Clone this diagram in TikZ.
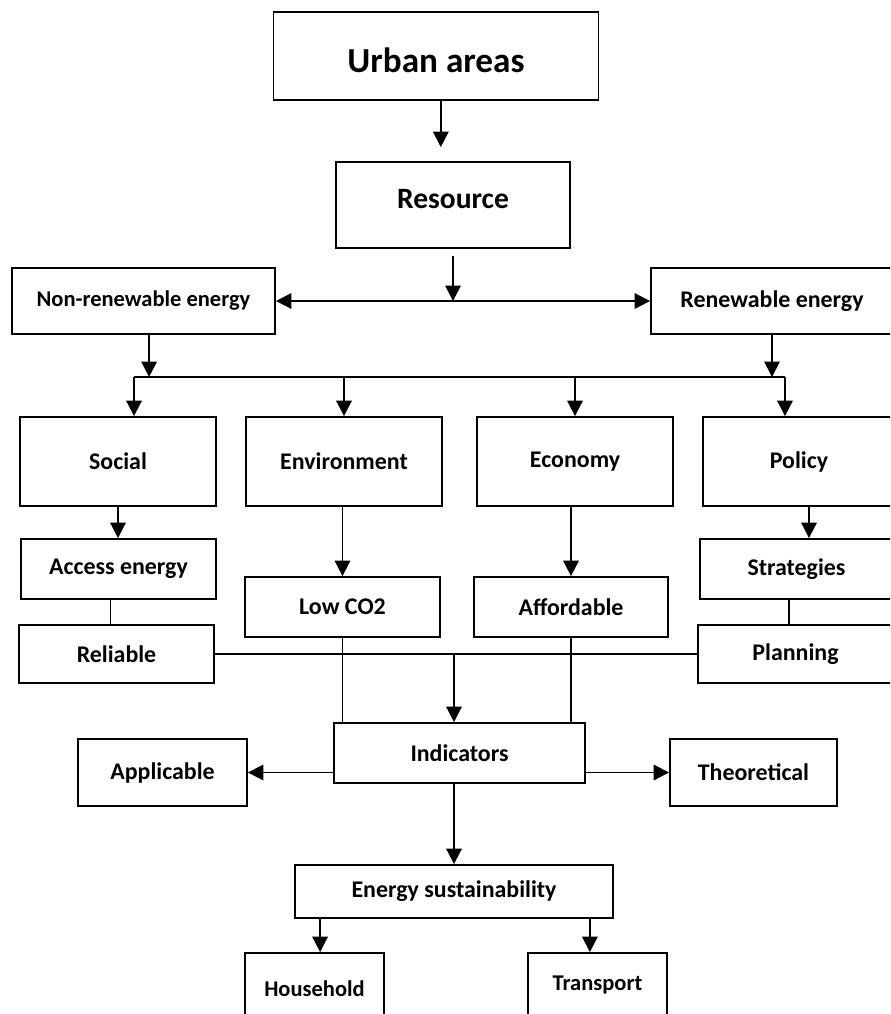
\documentclass[tikz,border=0pt]{standalone}
\usepackage{fontspec}
\setmainfont{Carlito}
\usetikzlibrary{arrows.meta}

\tikzset{
    box/.style={draw, line width=1.3pt, inner sep=0pt, font=\bfseries\fontsize{17}{20}\selectfont},
    boxsize/.style 2 args={minimum width=#1*0.025cm, minimum height=#2*0.025cm},
    ln/.style={line width=1.3pt},
    arr/.style={ln, -{Triangle[length=11pt, width=11pt]}},
    arrs/.style={ln, {Triangle[length=11pt, width=11pt]}-{Triangle[length=11pt, width=11pt]}}
}

\begin{document}
\begin{tikzpicture}[x=0.025cm, y=-0.025cm]
    \fill[white] (0,0) rectangle (890,1014);
    \clip (0,0) rectangle (890,1014);

    \node[box, boxsize={325}{88}, font=\bfseries\fontsize{25}{30}\selectfont, text height=24pt, text depth=0pt] (urban) at (436,56) {Urban areas};
    \node[box, boxsize={234}{86}, font=\bfseries\fontsize{21}{25}\selectfont, text height=15pt, text depth=10pt] (resource) at (453,205) {Resource};
    \node[box, boxsize={263}{66}, font=\bfseries\fontsize{16}{19}\selectfont] (nonrenew) at (143.5,301) {Non-renewable energy};
    \node[box, boxsize={242}{66}] (renew) at (772,301) {Renewable energy};

    \node[box, boxsize={196}{89}] (social) at (118,461.5) {Social};
    \node[box, boxsize={196}{89}] (environment) at (344,461.5) {Environment};
    \node[box, boxsize={196}{89}] (economy) at (575,461.5) {Economy};
    \node[box, boxsize={192}{89}] (policy) at (799,461.5) {Policy};

    \node[box, boxsize={195}{60}] (access) at (118.5,569) {Access energy};
    \node[box, boxsize={195}{58}] (reliable) at (116.5,654) {Reliable};
    \node[box, boxsize={195}{60}] (lowco2) at (342.5,607) {Low CO2};
    \node[box, boxsize={194}{60}] (afford) at (571,607) {Affordable};
    \node[box, boxsize={193}{60}] (strat) at (796.5,569) {Strategies};
    \node[box, boxsize={195}{58}] (planning) at (795.5,654) {Planning};

    \node[box, boxsize={251}{60}] (indic) at (459.5,753) {Indicators};
    \node[box, boxsize={169}{67}] (applic) at (162.5,772.5) {Applicable};
    \node[box, boxsize={167}{67}] (theor) at (753.5,772.5) {Theoretical};
    \node[box, boxsize={318}{53}] (esus) at (454,891.5) {Energy sustainability};
    \node[box, boxsize={139}{72}, font=\bfseries\fontsize{16}{19}\selectfont] (house) at (314.5,989) {Household};
    \node[box, boxsize={139}{64}, font=\bfseries\fontsize{16}{19}\selectfont] (transp) at (597.5,985) {Transport};

    \draw[arr, shorten >=0.35cm] ([xshift=0.12cm]urban.south) -- ([xshift=0.12cm]urban.south |- resource.north);
    \coordinate (split) at (resource.south |- nonrenew.east);
    \draw[arr, shorten <=0.18cm] (resource.south) -- (split);
    \draw[arrs] (nonrenew.east) -- (renew.west);

    \coordinate (bl) at (134,377);
    \coordinate (br) at (785,377);
    \draw[ln] (bl) -- (br);
    \draw[arr] ([xshift=0.14cm]nonrenew.south) -- ([xshift=0.14cm]nonrenew.south |- bl);
    \draw[arr] (renew.south) -- (renew.south |- br);
    \draw[arr] (bl) -- (bl |- social.north);
    \draw[arr] (br) -- (br |- policy.north);
    \foreach \n in {environment, economy}
        \draw[arr] (\n.north |- bl) -- (\n.north);

    \draw[arr] (social.south) -- (social.south |- access.north);
    \draw[ln] ([xshift=-0.2cm]access.south) -- ([xshift=-0.2cm]access.south |- reliable.north);
    \draw[arr] (lowco2.north |- environment.south) -- (lowco2.north);
    \draw[arr] (afford.north |- economy.south) -- (afford.north);
    \draw[arr] ([xshift=0.25cm]policy.south) -- ([xshift=0.25cm]policy.south |- strat.north);
    \draw[ln] ([xshift=-0.19cm]strat.south) -- ([xshift=-0.19cm]strat.south |- planning.north);

    \draw[ln] (reliable.east) -- (planning.west);
    \coordinate (join) at (esus.north |- reliable.east);
    \draw[arr] (join) -- (join |- indic.north);
    \draw[ln] (lowco2.south) -- (lowco2.south |- indic.north);
    \draw[ln] (afford.south) -- (afford.south |- indic.north);

    \draw[arr] (indic.west |- applic.east) -- (applic.east);
    \draw[arr] (indic.east |- theor.west) -- (theor.west);
    \draw[arr] (esus.north |- indic.south) -- (esus.north);
    \draw[arr] ([xshift=0.14cm]house.north |- esus.south) -- ([xshift=0.14cm]house.north);
    \draw[arr] ([xshift=-0.19cm]transp.north |- esus.south) -- ([xshift=-0.19cm]transp.north);
\end{tikzpicture}
\end{document}
